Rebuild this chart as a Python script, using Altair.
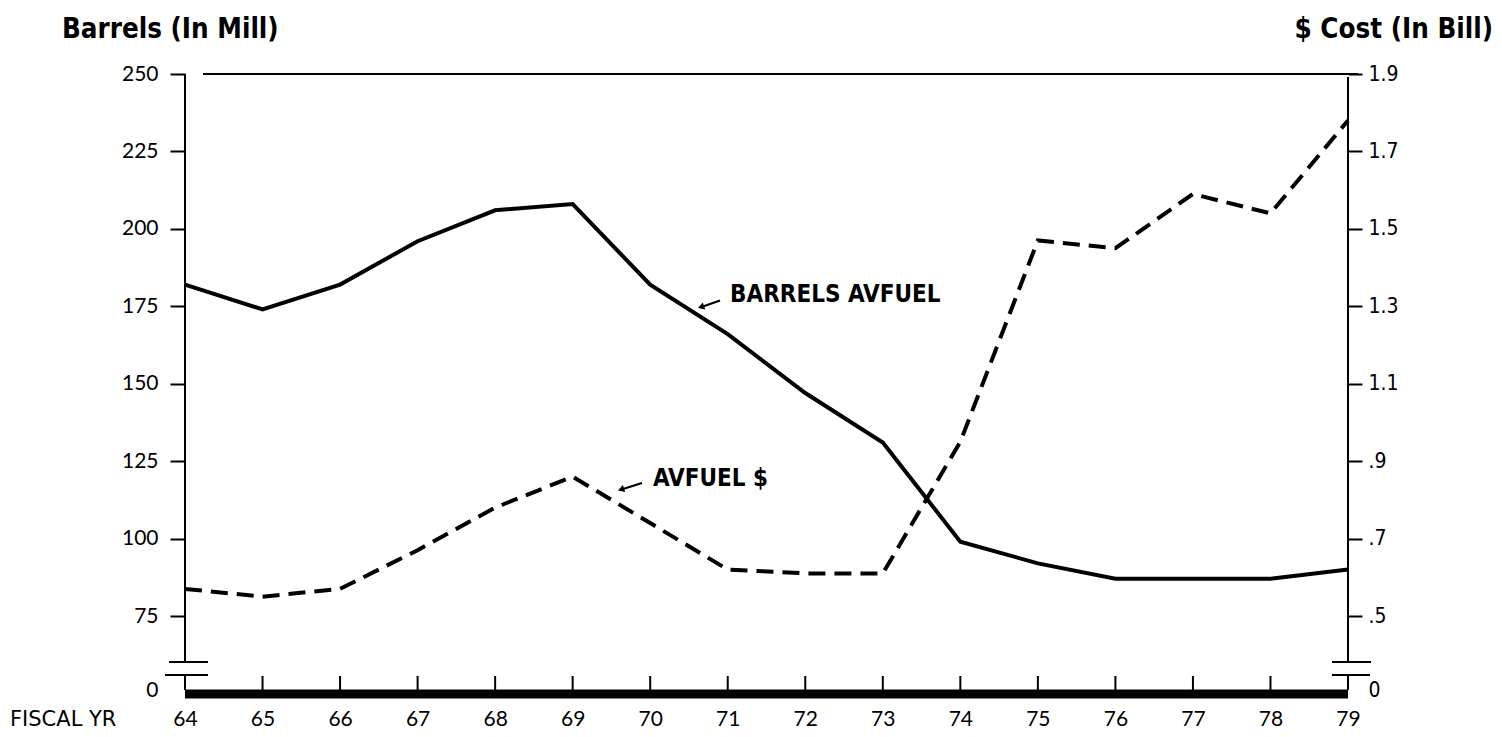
import altair as alt
import pandas as pd

# ---------------- data ----------------
YEARS = list(range(64, 80))
BARRELS = [182, 174, 182, 196, 206, 208, 182, 166, 147, 131, 99, 92, 87, 87, 87, 90]
COST = [0.57, 0.55, 0.57, 0.67, 0.78, 0.86, 0.74, 0.62, 0.61, 0.61, 0.95, 1.47, 1.45, 1.59, 1.54, 1.78]
LEFT_TICKS = [75, 100, 125, 150, 175, 200, 225, 250]
RIGHT_TICKS = [0.5, 0.7, 0.9, 1.1, 1.3, 1.5, 1.7, 1.9]

LEFT_TITLE = "Barrels (In Mill)"
RIGHT_TITLE = "$ Cost (In Bill)"
XLABEL = "FISCAL YR"
NOTE_BARRELS = "BARRELS AVFUEL"
NOTE_COST = "AVFUEL $"

# ---------------- layout ----------------
W, H = 1163, 626
PX_PER_UNIT = 542 / 175.0          # left scale pixels per barrel unit
Y_TOP = 250
Y_LO = Y_TOP - H / PX_PER_UNIT      # bottom of plot in left units
ZERO_L = Y_TOP - 616 / PX_PER_UNIT  # where the broken-axis "0" sits


def to_right(v):
    # right axis: 75 -> .5, 250 -> 1.9
    return 0.5 + (v - 75) * (1.4 / 175)


NUM_FONT = "Lato"
COND_FONT = "'DejaVu Sans Condensed', 'Liberation Sans Narrow', 'Roboto Condensed', 'DejaVu Sans', sans-serif"

df = pd.DataFrame({"year": YEARS, "barrels": BARRELS, "cost": COST})

x_enc = alt.X(
    "year:Q",
    scale=alt.Scale(domain=[64, 79], nice=False, zero=False),
    axis=alt.Axis(values=YEARS, format="d", ticks=False, domain=False, grid=False,
                  title=None, labelFont=NUM_FONT, labelFontSize=21, labelPadding=8,
                  labelFlush=False, labelColor="black"),
)

barrels_line = alt.Chart(df).mark_line(color="black", strokeWidth=4).encode(
    x=x_enc,
    y=alt.Y(
        "barrels:Q",
        scale=alt.Scale(domain=[Y_LO, Y_TOP], nice=False, zero=False),
        axis=alt.Axis(
            values=[ZERO_L] + LEFT_TICKS,
            labelExpr="datum.value < 60 ? '0' : format(datum.value, 'd')",
            tickSize=15, tickWidth=2, tickColor="black",
            tickOpacity=alt.condition("datum.value < 60", alt.value(0), alt.value(1)),
            domain=False, grid=False, title=None, labelFlush=False,
            labelFont=NUM_FONT, labelFontSize=21, labelPadding=12, labelColor="black",
        ),
    ),
)

cost_line = alt.Chart(df).mark_line(color="black", strokeWidth=4, strokeDash=[17, 9]).encode(
    x=x_enc,
    y=alt.Y(
        "cost:Q",
        scale=alt.Scale(domain=[to_right(Y_LO), to_right(Y_TOP)], nice=False, zero=False),
        axis=alt.Axis(
            orient="right",
            values=[to_right(ZERO_L)] + RIGHT_TICKS,
            labelExpr=("datum.value < 0.4 ? '0' : (datum.value < 1 ? "
                       "replace(format(datum.value, '.1f'), '0.', '.') : format(datum.value, '.1f'))"),
            tickSize=14, tickWidth=2, tickColor="black",
            tickOpacity=alt.condition("datum.value < 0.4", alt.value(0), alt.value(1)),
            domain=False, grid=False, title=None, labelFlush=False,
            labelFont=COND_FONT, labelFontSize=21, labelPadding=6, labelColor="black",
        ),
    ),
)

one = alt.Data(values=[{"k": 0}])


def seg(x1, y1, x2, y2, w=2):
    return alt.Chart(one).mark_rule(color="black", strokeWidth=w, strokeCap="butt").encode(
        x=alt.value(x1), y=alt.value(y1), x2=alt.value(x2), y2=alt.value(y2))


def txt(t, x, y, size, font, weight="normal", align="left"):
    return alt.Chart(one).mark_text(text=t, font=font, fontSize=size, fontWeight=weight,
                                    align=align, baseline="middle", color="black").encode(
        x=alt.value(x), y=alt.value(y))


def head(x, y, angle):
    return alt.Chart(one).mark_point(shape="triangle-left", filled=True, color="black",
                                     size=55, angle=angle, opacity=1).encode(
        x=alt.value(x), y=alt.value(y))


frame = [
    seg(18, 0, W + 10, 0),            # top border
    seg(0, 0, 0, 588),                # left axis above break
    seg(0, 601, 0, 616),              # left axis below break
    seg(W, 3, W, 588),                # right axis above break
    seg(W, 601, W, 616),              # right axis below break
    seg(-16, 588, 23, 588),           # left break marks
    seg(-20, 601, 23, 601),
    seg(W - 16, 588, W + 23, 588),    # right break marks
    seg(W - 16, 601, W + 22, 601),
    seg(0, 620, W, 620, w=9),         # thick base bar
]

xticks = alt.Chart(pd.DataFrame({"year": YEARS[1:-1]})).mark_rule(
    color="black", strokeWidth=2).encode(x=x_enc, y=alt.value(602), y2=alt.value(616))

texts = [
    txt(LEFT_TITLE, -123, -44, 27.5, COND_FONT, "bold"),
    txt(RIGHT_TITLE, 1308, -44, 27.5, COND_FONT, "bold", align="right"),
    txt(XLABEL, -175, 646, 21, "DejaVu Sans"),
    txt(NOTE_BARRELS, 545, 221, 24, COND_FONT, "bold"),
    txt(NOTE_COST, 468, 405, 24, COND_FONT, "bold"),
    seg(535, 226.5, 518, 232.5),
    head(516, 233, 340),
    seg(457, 409, 438, 415),
    head(436, 415.5, 342),
]

chart = alt.layer(*frame, xticks, *texts, barrels_line, cost_line).resolve_scale(
    y="independent"
).properties(
    width=W, height=H,
    autosize=alt.AutoSizeParams(type="none"),
    padding={"left": 177, "top": 66, "right": 146, "bottom": 30},
    background="white",
).configure_view(stroke=None)

chart.save("out.html", embed_options={"renderer": "svg", "actions": False})
